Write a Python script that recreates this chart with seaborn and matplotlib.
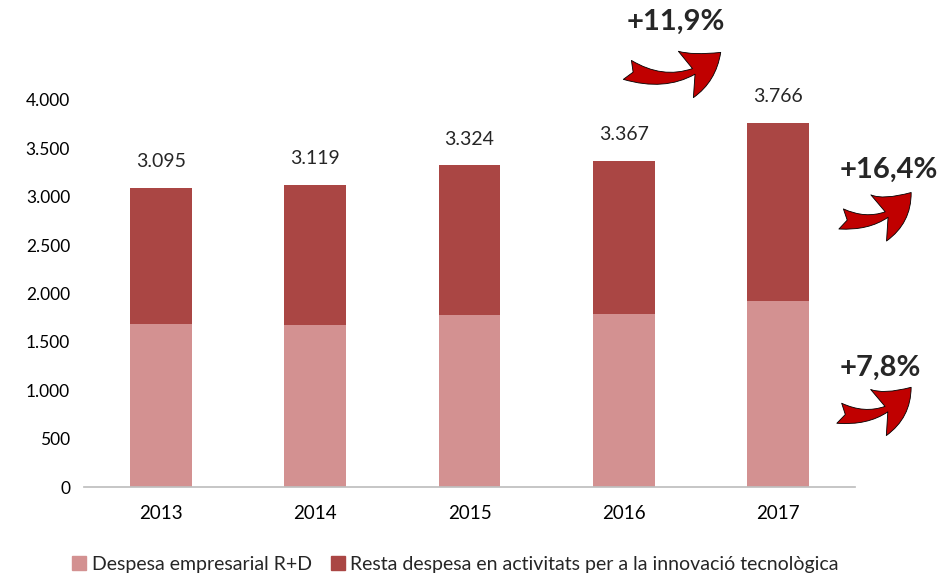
import pandas as pd
import matplotlib.pyplot as plt
import seaborn as sns
from matplotlib.patches import Patch, FancyArrowPatch

# Values (milions d'euros)
years = ["2013", "2014", "2015", "2016", "2017"]
rd_spend = [1685, 1675, 1780, 1785, 1925]
total_spend = [3095, 3119, 3324, 3367, 3766]
growth_labels = ["+11,9%", "+16,4%", "+7,8%"]
legend_labels = ["Despesa empresarial R+D",
                 "Resta despesa en activitats per a la innovació tecnològica"]

light = "#D39191"
dark = "#AA4644"
arrow_red = "#C00000"

df = pd.DataFrame({"Year": years, "RD": rd_spend, "Total": total_spend})

sns.set_theme(style="white")
plt.rcParams["font.family"] = ["Lato", "DejaVu Sans"]

fig = plt.figure(figsize=(9.41, 5.73), dpi=100)
ax = fig.add_axes([84 / 941, 86 / 573, 771 / 941, 387 / 573])

# Stacked bars: total in dark, R+D part on top in light
sns.barplot(data=df, x="Year", y="Total", color=dark, width=0.4,
            saturation=1, linewidth=0, ax=ax)
sns.barplot(data=df, x="Year", y="RD", color=light, width=0.4,
            saturation=1, linewidth=0, ax=ax)

ax.set_ylim(0, 4000)
ax.set_yticks(range(0, 4001, 500))
ax.set_yticklabels([f"{v:,}".replace(",", ".") for v in range(0, 4001, 500)])
ax.set_xlabel("")
ax.set_ylabel("")
ax.tick_params(axis="both", length=0, labelsize=12.5, colors="black")
ax.tick_params(axis="x", labelsize=13.5, pad=13)
ax.tick_params(axis="y", pad=10)
for s in ["top", "right", "left"]:
    ax.spines[s].set_visible(False)
ax.spines["bottom"].set_color("#BFBFBF")

# Total labels above bars
for i, t in enumerate(total_spend):
    ax.annotate(f"{t:,}".replace(",", "."), xy=(i, t), xytext=(0, 19),
                textcoords="offset points", ha="center", va="center",
                fontsize=14, annotation_clip=False)

# Growth arrows and labels (figure fraction)
arrow_style = "fancy,head_length=1.1,head_width=1.3,tail_width=0.55"
arrows = [
    ((0.664, 0.880), (0.768, 0.912), (0.718, 0.962)),
    ((0.891, 0.619), (0.970, 0.668), (0.945, 0.703)),
    ((0.889, 0.280), (0.970, 0.328), (0.935, 0.358)),
]
for (tail, head, txt), lab in zip(arrows, growth_labels):
    fig.patches.append(FancyArrowPatch(
        tail, head, transform=fig.transFigure,
        connectionstyle="arc3,rad=0.35", arrowstyle=arrow_style,
        mutation_scale=27, facecolor=arrow_red, edgecolor="black",
        linewidth=0.6))
    fig.text(txt[0], txt[1], lab, ha="center", va="center",
             fontsize=21, fontweight="bold")

handles = [Patch(color=light), Patch(color=dark)]
fig.legend(handles, legend_labels, loc="center left",
           bbox_to_anchor=(0.058, 0.015), ncol=2, frameon=False,
           fontsize=14, handlelength=0.7, handleheight=0.7,
           handletextpad=0.3, columnspacing=1.0)

fig.savefig("out.png", dpi=100)
